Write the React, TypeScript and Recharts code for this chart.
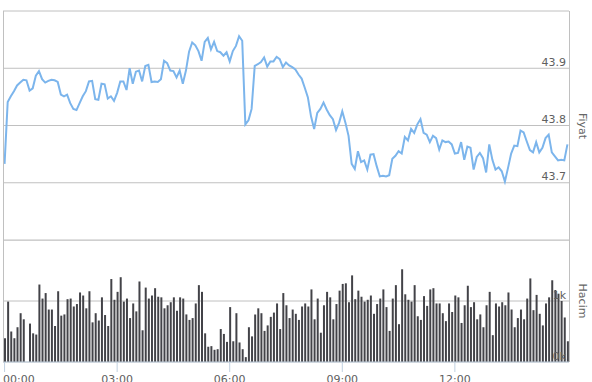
import { ComposedChart, Line, Bar, XAxis, YAxis, CartesianGrid } from 'recharts';

// 5-minute steps, 00:00 - 15:00
const times: string[] = [];
for (let m = 0; m <= 15 * 60; m += 5) {
  times.push(`${String(Math.floor(m / 60)).padStart(2, '0')}:${String(m % 60).padStart(2, '0')}`);
}

const xTicks = ['00:00', '03:00', '06:00', '09:00', '12:00'];
const priceTicks = [43.6, 43.7, 43.8, 43.9, 44.0];
const volumeTicks = [0, 1, 2];

const prices = [
  43.733, 43.841, 43.851, 43.86, 43.87, 43.875, 43.88, 43.879, 43.861, 43.865,
  43.887, 43.895, 43.881, 43.875, 43.878, 43.88, 43.879, 43.876, 43.854, 43.851,
  43.854, 43.839, 43.829, 43.827, 43.839, 43.851, 43.86, 43.877, 43.878, 43.846,
  43.845, 43.873, 43.872, 43.847, 43.851, 43.843, 43.857, 43.877, 43.877, 43.862,
  43.9, 43.873, 43.894, 43.896, 43.877, 43.904, 43.906, 43.876, 43.877, 43.876,
  43.881, 43.913, 43.909, 43.896, 43.895, 43.884, 43.896, 43.873, 43.896, 43.929,
  43.945, 43.94, 43.93, 43.913, 43.946, 43.953, 43.933, 43.946, 43.93, 43.928,
  43.922, 43.928, 43.912, 43.93, 43.939, 43.956, 43.948, 43.802, 43.809, 43.829,
  43.904, 43.907, 43.911, 43.919, 43.903, 43.912, 43.912, 43.92, 43.916, 43.902,
  43.91, 43.905, 43.902, 43.898, 43.889, 43.882, 43.866, 43.849, 43.816, 43.794,
  43.822, 43.829, 43.84, 43.828, 43.818, 43.811, 43.792, 43.805, 43.825, 43.805,
  43.782, 43.733, 43.724, 43.755, 43.736, 43.739, 43.723, 43.749, 43.75, 43.729,
  43.711, 43.712, 43.711, 43.713, 43.742, 43.747, 43.755, 43.751, 43.78, 43.774,
  43.794, 43.787, 43.802, 43.811, 43.787, 43.784, 43.771, 43.782, 43.778, 43.758,
  43.774, 43.771, 43.772, 43.767, 43.751, 43.752, 43.771, 43.74, 43.763, 43.761,
  43.723, 43.745, 43.752, 43.743, 43.718, 43.767, 43.74, 43.723, 43.727, 43.72,
  43.702, 43.726, 43.751, 43.765, 43.764, 43.791, 43.788, 43.772, 43.757, 43.753,
  43.771, 43.753, 43.761, 43.778, 43.784, 43.753, 43.746, 43.739, 43.74, 43.739,
  43.767,
];

// volume in thousands
const volumes = [
  0.39, 0.99, 0.5, 0.39, 0.57, 0.8, 0.7, 0, 0.63, 0.47,
  0.45, 1.27, 1.04, 1.13, 0.86, 0.86, 0.59, 1.16, 0.76, 0.78,
  1.03, 1.04, 0.91, 0.95, 1.14, 1.09, 0.88, 1.16, 0.65, 0.8,
  0.68, 1.06, 0.77, 0.59, 1.36, 1.02, 1.15, 1.39, 0.99, 1.04,
  0.72, 0.96, 0.83, 1.32, 0.52, 1.22, 1.04, 1.09, 1.21, 1.07,
  1.06, 0.88, 0.93, 0.98, 1.06, 0.84, 1.06, 1.04, 0.78, 0.69,
  0.72, 0.96, 1.26,
  1.15, 0.47, 0.25, 0.26, 0.2, 0.21, 0.54, 0.46, 0.33, 0.9,
  0.34, 0.8, 0.32, 0.21, 0.08, 0.57, 0.42, 0.78, 0.88, 0.8,
  0.51, 0.6, 0.74, 0.81, 0.96, 0.54, 1.13, 0.93, 0.72, 0.86,
  0.79, 0.69, 0.91, 0.96, 0.91, 1.19, 0.7, 1.04, 0.48, 0.93,
  1.15, 1.06, 0.7, 0.95, 1.17, 1.28, 1.29, 0.98, 1.42, 1.03,
  1.17, 1.07, 0.99, 1.02, 1.09, 0.79, 0.95, 1.04, 1.19, 0.9,
  0.51, 1.04, 1.26,
  0.62, 1.52, 1.11, 1.02, 0.99, 1.26, 0.75, 0.69, 1.08, 0.92,
  1.19, 1.21, 0.96, 0.96, 0.8, 0.67, 0.96, 0.82, 1.09, 1.06,
  0.64, 0.93, 1.25, 0.9, 0.98, 0.7, 0.78, 0.57, 0.93, 1.15, 0.44,
  0.96, 0.91, 0.98, 0.93, 1.14, 0.86, 0.57, 0.72, 0.86, 0.7,
  1.04, 1.37, 0.85, 1.1, 0.79, 0.6, 0.96, 1.06, 1.34, 1.18,
  1.12, 1.0, 0.73, 0.34,
];

const data = times.map((time, i) => ({ time, price: prices[i], volume: volumes[i] }));

const FONT = '"DejaVu Sans", Verdana, sans-serif';
const LABEL = '#606060';
const GRID = '#C0C0C0';

const PriceTick = (props: any) => {
  const { x, y, payload } = props;
  if (payload.value >= 44) return <g />;
  return (
    <text x={x} y={y - 2.5} textAnchor="end" fill={LABEL} fontSize={11} fontFamily={FONT}>
      {Number(payload.value).toFixed(1)}
    </text>
  );
};

const VolumeTick = (props: any) => {
  const { x, y, payload } = props;
  if (payload.value >= 2) return <g />;
  return (
    <text x={x} y={y - 2.5} textAnchor="end" fill={LABEL} fontSize={11} fontFamily={FONT}>
      {payload.value}k
    </text>
  );
};

// keeps the first label inside the chart, like the original
const TimeTick = (props: any) => {
  const { x, y, payload } = props;
  const half = 16;
  const leftEdge = 3;
  const clamp = x - half < leftEdge;
  return (
    <text
      x={clamp ? leftEdge : x}
      y={y + 9}
      textAnchor={clamp ? 'start' : 'middle'}
      fill={LABEL}
      fontSize={11}
      fontFamily={FONT}
    >
      {payload.value}
    </text>
  );
};

export default function App() {
  return (
    <div style={{ position: 'absolute', left: 0, top: 0, width: 592, height: 382, background: '#fff', fontFamily: FONT }}>
      <div style={{ position: 'absolute', left: 0, top: 0 }}>
        <ComposedChart width={592} height={241} data={data} margin={{ top: 11, right: 23, bottom: 1, left: 3 }}>
          <CartesianGrid vertical={false} stroke={GRID} />
          <XAxis dataKey="time" hide scale="band" />
          <YAxis
            orientation="right"
            mirror
            domain={[43.6, 44.0]}
            ticks={priceTicks}
            axisLine={false}
            tickLine={false}
            tickSize={0}
            tickMargin={3}
            tick={PriceTick}
          />
          <Line
            dataKey="price"
            stroke="#7cb5ec"
            strokeWidth={2}
            dot={false}
            activeDot={false}
            isAnimationActive={false}
          />
        </ComposedChart>
      </div>
      <div style={{ position: 'absolute', left: 0, top: 240 }}>
        <ComposedChart width={592} height={142} data={data} margin={{ top: 0, right: 23, bottom: 0, left: 3 }}>
          <CartesianGrid vertical={false} stroke={GRID} />
          <XAxis
            dataKey="time"
            ticks={xTicks}
            interval={0}
            height={20}
            tickSize={10}
            tickMargin={2}
            stroke="#C0D0E0"
            tick={TimeTick}
          />
          <YAxis
            orientation="right"
            mirror
            domain={[0, 2]}
            ticks={volumeTicks}
            axisLine={false}
            tickLine={false}
            tickSize={0}
            tickMargin={3}
            tick={VolumeTick}
          />
          <Bar dataKey="volume" fill="#434348" barSize={2} isAnimationActive={false} />
        </ComposedChart>
      </div>
      {/* plot frame */}
      <div
        style={{
          position: 'absolute',
          left: 3,
          top: 11,
          width: 567,
          height: 351,
          boxSizing: 'border-box',
          borderLeft: `1px solid ${GRID}`,
          borderRight: `1px solid ${GRID}`,
          pointerEvents: 'none',
        }}
      />
      <svg width={592} height={382} style={{ position: 'absolute', left: 0, top: 0, pointerEvents: 'none' }}>
        <text x={582} y={126} transform="rotate(90 582 126)" textAnchor="middle" dominantBaseline="central" fill="#666" fontSize={11} fontFamily={FONT}>
          Fiyat
        </text>
        <text x={582} y={301} transform="rotate(90 582 301)" textAnchor="middle" dominantBaseline="central" fill="#666" fontSize={11} fontFamily={FONT}>
          Hacim
        </text>
      </svg>
    </div>
  );
}
